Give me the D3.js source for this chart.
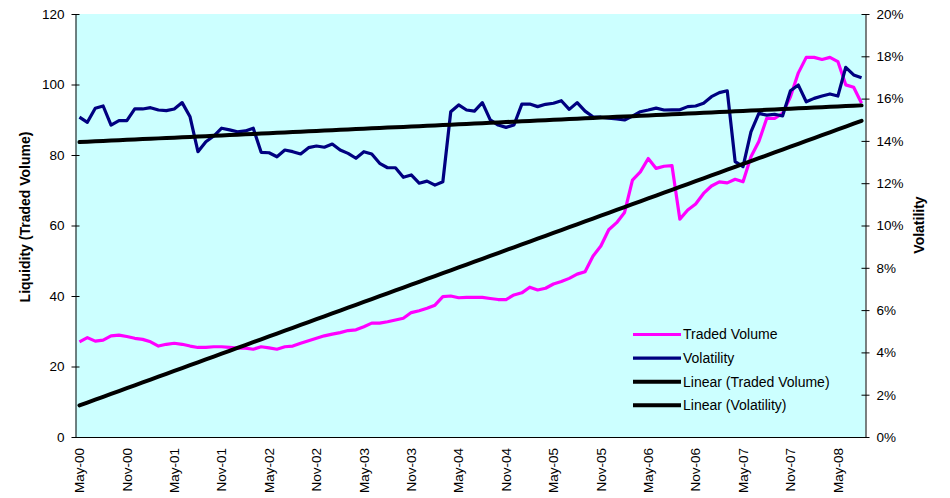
<!DOCTYPE html>
<html><head><meta charset="utf-8">
<script src="https://cdn.jsdelivr.net/npm/d3@7"></script>
<style>body{margin:0;background:#fff}svg{display:block}text{font-family:Arial,"Liberation Sans",sans-serif}</style>
</head><body><svg id="c" width="950" height="498"></svg>
<script>
const monthNames = ["Jan","Feb","Mar","Apr","May","Jun","Jul","Aug","Sep","Oct","Nov","Dec"];
// categories: monthly from May-00 to Aug-08
const categories = [];
for (let k = 0; k < 100; k++) { const m = (4 + k) % 12, y = Math.floor((4 + k) / 12); categories.push(monthNames[m] + "-" + String(y).padStart(2, "0")); }
const tradedVolume = [27.0,28.2,27.2,27.5,28.7,28.9,28.5,28.0,27.7,27.0,
25.8,26.3,26.6,26.3,25.8,25.4,25.4,25.6,25.6,25.4,
25.2,25.2,24.9,25.6,25.3,24.9,25.6,25.8,26.6,27.3,
28.0,28.7,29.2,29.6,30.2,30.4,31.3,32.3,32.3,32.7,
33.2,33.7,35.3,35.8,36.5,37.4,39.8,40.0,39.5,39.6,
39.6,39.6,39.3,39.0,39.0,40.3,40.9,42.5,41.7,42.2,
43.4,44.1,45.0,46.2,46.9,51.3,54.2,58.8,60.8,63.7,
72.9,75.2,79.0,76.2,76.8,77.0,61.8,64.4,66.1,69.1,
71.2,72.4,72.1,73.1,72.4,79.5,83.8,90.4,90.4,91.8,
96.5,103.3,107.7,107.7,107.1,107.7,106.5,99.9,99.2,94.7];
const volatility = [15.12,14.88,15.54,15.65,14.75,14.96,14.96,15.51,15.51,15.57,
15.46,15.43,15.51,15.81,15.14,13.49,13.96,14.23,14.60,14.52,
14.43,14.47,14.60,13.46,13.44,13.25,13.57,13.49,13.38,13.68,
13.76,13.70,13.85,13.57,13.41,13.18,13.49,13.38,12.94,12.73,
12.73,12.28,12.39,12.00,12.10,11.91,12.07,15.38,15.70,15.46,
15.41,15.81,14.99,14.75,14.64,14.75,15.74,15.74,15.62,15.73,
15.78,15.90,15.49,15.81,15.41,15.14,15.12,15.07,15.04,14.99,
15.17,15.38,15.46,15.55,15.46,15.47,15.47,15.62,15.65,15.78,
16.09,16.28,16.37,13.02,12.78,14.43,15.30,15.22,15.26,15.18,
16.37,16.64,15.85,16.01,16.12,16.22,16.12,17.48,17.12,16.99];
const leftTicks = [0,20,40,60,80,100,120];
const rightTicks = [0,2,4,6,8,10,12,14,16,18,20];
const legendLabels = ["Traded Volume","Volatility","Linear (Traded Volume)","Linear (Volatility)"];

function linFit(vals){
  const n = vals.length; let sx=0, sy=0, sxx=0, sxy=0;
  vals.forEach((v,i)=>{sx+=i; sy+=v; sxx+=i*i; sxy+=i*v;});
  const b = (n*sxy - sx*sy)/(n*sxx - sx*sx), a = (sy - b*sx)/n;
  return vals.map((v,i)=>a+b*i);
}
const volTrend = linFit(tradedVolume), vlTrend = linFit(volatility);

const svg = d3.select("#c");
const L = 75.5, R = 865.5, T = 14, B = 437;
const FF = "Arial, 'Liberation Sans', sans-serif";
const x = d3.scaleBand().domain(categories).range([L, R]).padding(0);
const cx = c => x(c) + x.bandwidth()/2;
const yL = d3.scaleLinear().domain([0,120]).range([B, T]);
const yR = d3.scaleLinear().domain([0,20]).range([B, T]);

svg.append("rect").attr("x", L).attr("y", T).attr("width", R-L).attr("height", B-T).attr("fill", "#CCFFFF");

const lineL = d3.line().x((d,i)=>cx(categories[i])).y(d=>yL(d));
const lineR = d3.line().x((d,i)=>cx(categories[i])).y(d=>yR(d));

svg.append("path").datum(tradedVolume).attr("d", lineL).attr("fill","none").attr("stroke","#FF00FF").attr("stroke-width",3.2).attr("stroke-linejoin","round");
svg.append("path").datum(volatility).attr("d", lineR).attr("fill","none").attr("stroke","#000080").attr("stroke-width",3.2).attr("stroke-linejoin","round");
svg.append("path").datum(volTrend).attr("d", lineL).attr("fill","none").attr("stroke","#000").attr("stroke-width",4).attr("stroke-linecap","round");
svg.append("path").datum(vlTrend).attr("d", lineR).attr("fill","none").attr("stroke","#000").attr("stroke-width",4).attr("stroke-linecap","round");

// left axis
const gL = svg.append("g").attr("transform", `translate(${L},0)`)
  .call(d3.axisLeft(yL).tickValues(leftTicks).tickSizeInner(4).tickSizeOuter(0).tickPadding(7));
gL.select(".domain").attr("stroke","#000");
gL.selectAll(".tick line").attr("x2", 4).attr("x1",-4).attr("stroke","#000");
gL.selectAll("text").attr("font-size", 13.5).attr("fill","#000").attr("font-family",FF);

// right axis
const gR = svg.append("g").attr("transform", `translate(${R},0)`)
  .call(d3.axisRight(yR).tickValues(rightTicks).tickFormat(d=>d+"%").tickSizeInner(4).tickSizeOuter(0).tickPadding(7));
gR.select(".domain").attr("stroke","#000");
gR.selectAll(".tick line").attr("x2", 4).attr("x1",-4).attr("stroke","#000");
gR.selectAll("text").attr("font-size", 13.5).attr("fill","#000").attr("font-family",FF);

// bottom axis
const gB = svg.append("g").attr("transform", `translate(0,${B})`)
  .call(d3.axisBottom(x).tickValues(categories.filter((c,i)=>i%6===0)).tickSize(0).tickSizeOuter(0));
gB.select(".domain").attr("stroke","#000").attr("d", `M${L},0.5H${R}`);
gB.selectAll("text").attr("font-size", 13.5).attr("fill","#000").attr("font-family",FF)
  .attr("text-anchor","end").attr("transform","rotate(-90)").attr("x",-11).attr("y",0).attr("dy","0.35em");

// axis titles
svg.append("text").attr("transform","translate(30,217) rotate(-90)").attr("text-anchor","middle")
  .attr("font-size",14).attr("font-weight","bold").text("Liquidity (Traded Volume)");
svg.append("text").attr("transform","translate(924,225) rotate(-90)").attr("text-anchor","middle")
  .attr("font-size",14).attr("font-weight","bold").text("Volatility");

// legend
const legColors = ["#FF00FF","#000080","#000","#000"];
const lg = svg.append("g");
legendLabels.forEach((t,i)=>{
  const yy = 334.5 + i*23.6;
  lg.append("line").attr("x1",633).attr("x2",681).attr("y1",yy).attr("y2",yy).attr("stroke",legColors[i]).attr("stroke-width", i<2?3.2:4);
  lg.append("text").attr("x",683).attr("y",yy).attr("dy","0.35em").attr("font-size",14).text(t);
});
</script></body></html>
